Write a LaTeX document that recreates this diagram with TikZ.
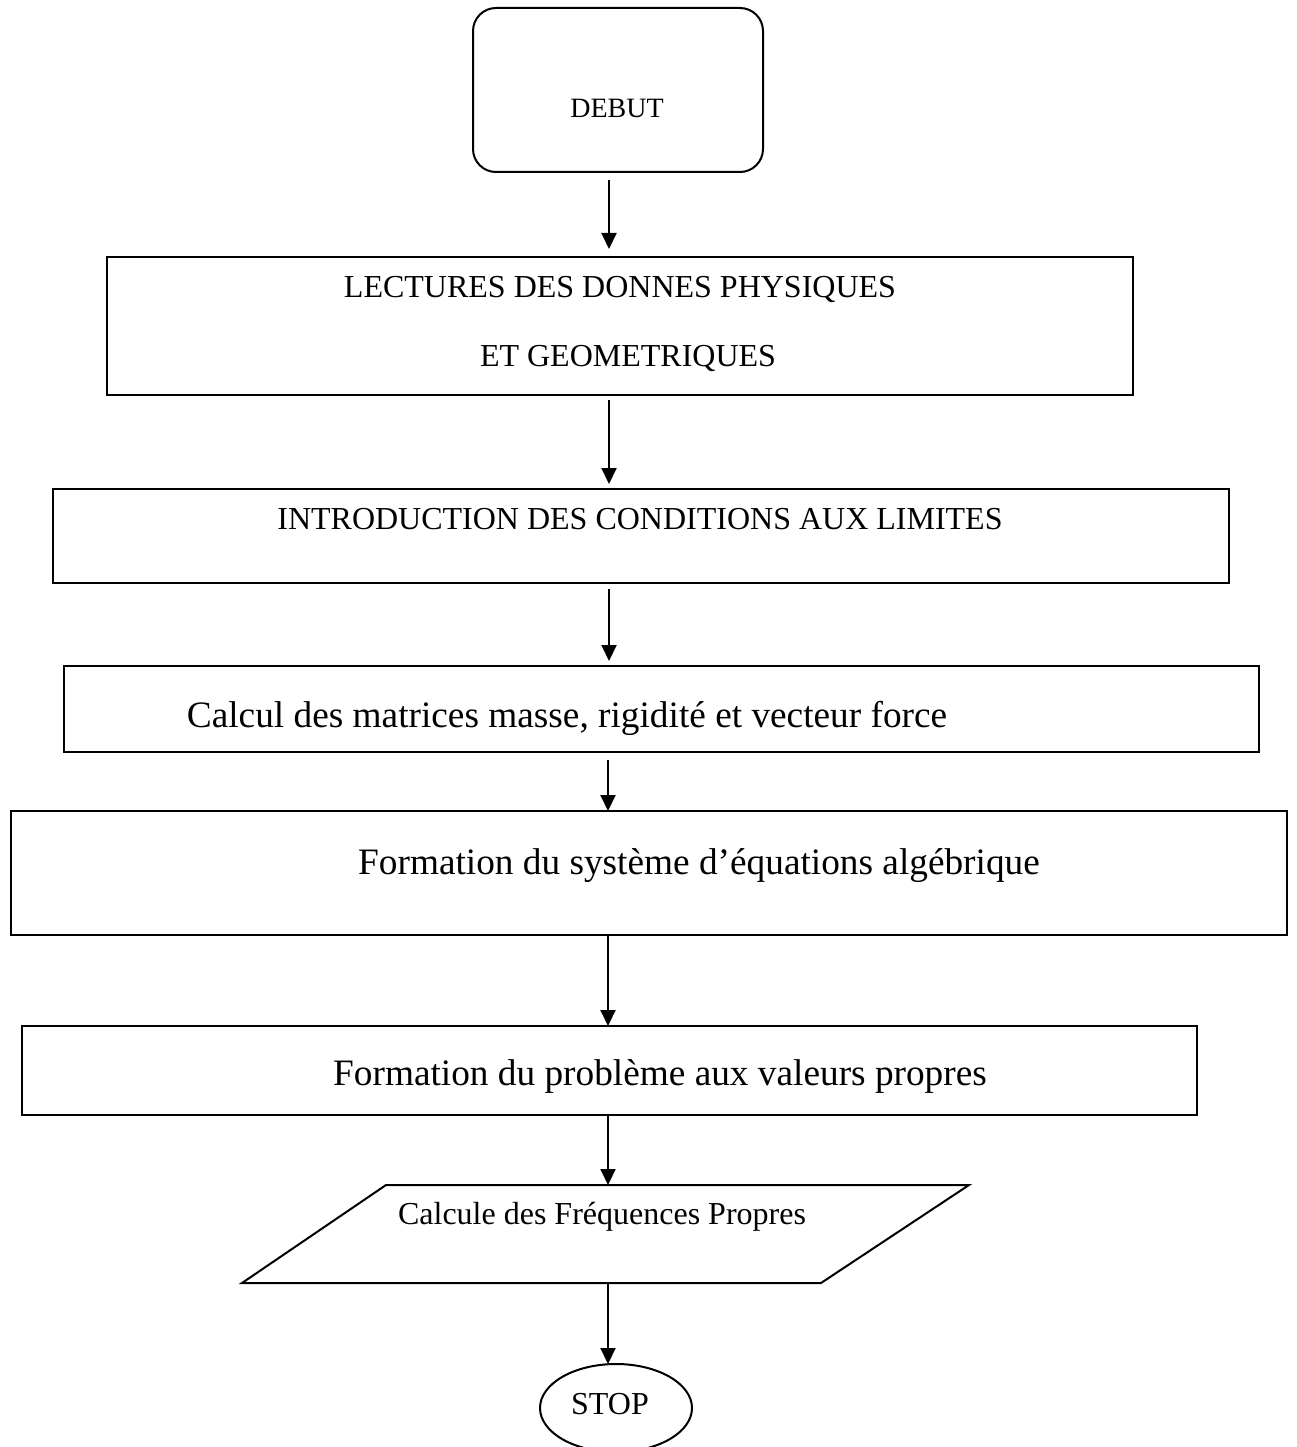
\documentclass[tikz,border=0pt]{standalone}
\usepackage{fontspec}
\setmainfont{Liberation Serif}
\usetikzlibrary{arrows.meta,shapes.geometric}
\begin{document}
\begin{tikzpicture}[x=1pt,y=-1pt,
  boxstyle/.style={draw,line width=2pt,inner sep=0pt,outer sep=0pt},
  lbl/.style={anchor=base,inner sep=0pt,outer sep=0pt},
  arr/.style={line width=2pt,-{Triangle[width=15pt,length=16pt]}},
  fdeb/.style={font=\fontsize{28}{34}\selectfont},
  fcap/.style={font=\fontsize{32}{38}\selectfont},
  fbig/.style={font=\fontsize{37.3}{44}\selectfont}]
\fill[white] (0,0) rectangle (1296,1447);
\useasboundingbox (0,0) rectangle (1296,1447);
% boxes
\node[boxstyle,rounded corners=23pt,minimum width=290pt,minimum height=164pt] (debut) at (618,90) {};
\node[boxstyle,minimum width=1026pt,minimum height=138pt] (lect) at (620,326) {};
\node[boxstyle,minimum width=1176pt,minimum height=94pt] (intro) at (641,536) {};
\node[boxstyle,minimum width=1195pt,minimum height=86pt] (calc) at (661.5,709) {};
\node[boxstyle,minimum width=1276pt,minimum height=124pt] (sys) at (649,873) {};
\node[boxstyle,minimum width=1175pt,minimum height=89pt] (prob) at (609.5,1070.5) {};
\coordinate (pTL) at (386,1185);
\coordinate (pTR) at (969,1185);
\coordinate (pBR) at (821,1283);
\coordinate (pBL) at (242,1283);
\draw[line width=2pt,line join=miter] (pTL) -- (pTR) -- (pBR) -- (pBL) -- cycle;
\node[boxstyle,ellipse,minimum width=152pt,minimum height=88pt] (stop) at (616,1408) {};
% texts
\node[lbl,fdeb] (tdebut) at (617,118) {DEBUT};
\node[lbl,fcap] (tlect1) at (620,297) {LECTURES DES DONNES PHYSIQUES};
\node[lbl,fcap] (tlect2) at (628,366) {ET GEOMETRIQUES};
\node[lbl,fcap] (tintro) at (640,529) {INTRODUCTION DES CONDITIONS AUX LIMITES};
\node[lbl,fbig] (tcalc) at (567,727) {Calcul des matrices masse, rigidité et vecteur force};
\node[lbl,fbig] (tsys) at (699,874) {Formation du système d’équations algébrique};
\node[lbl,fbig] (tprob) at (660,1085) {Formation du problème aux valeurs propres};
\node[lbl,fcap] (tpara) at (602,1224) {Calcule des Fréquences Propres};
\node[lbl,fcap] (tstop) at (610,1414) {STOP};
% connectors
\coordinate (ax) at (609,0);
\coordinate (bx) at (608,0);
\draw[arr,shorten <=8pt,shorten >=8pt] (debut.south -| ax) -- (lect.north -| ax);
\draw[arr,shorten <=5pt,shorten >=5pt] (lect.south -| ax) -- (intro.north -| ax);
\draw[arr,shorten <=6pt,shorten >=5pt] (intro.south -| ax) -- (calc.north -| ax);
\draw[arr,shorten <=8pt] (calc.south -| bx) -- (sys.north -| bx);
\draw[arr] (sys.south -| bx) -- (prob.north -| bx);
\draw[arr] (prob.south -| bx) -- (pTL -| bx);
\draw[arr] (pBL -| bx) -- (stop.north -| bx);
\end{tikzpicture}
\end{document}
